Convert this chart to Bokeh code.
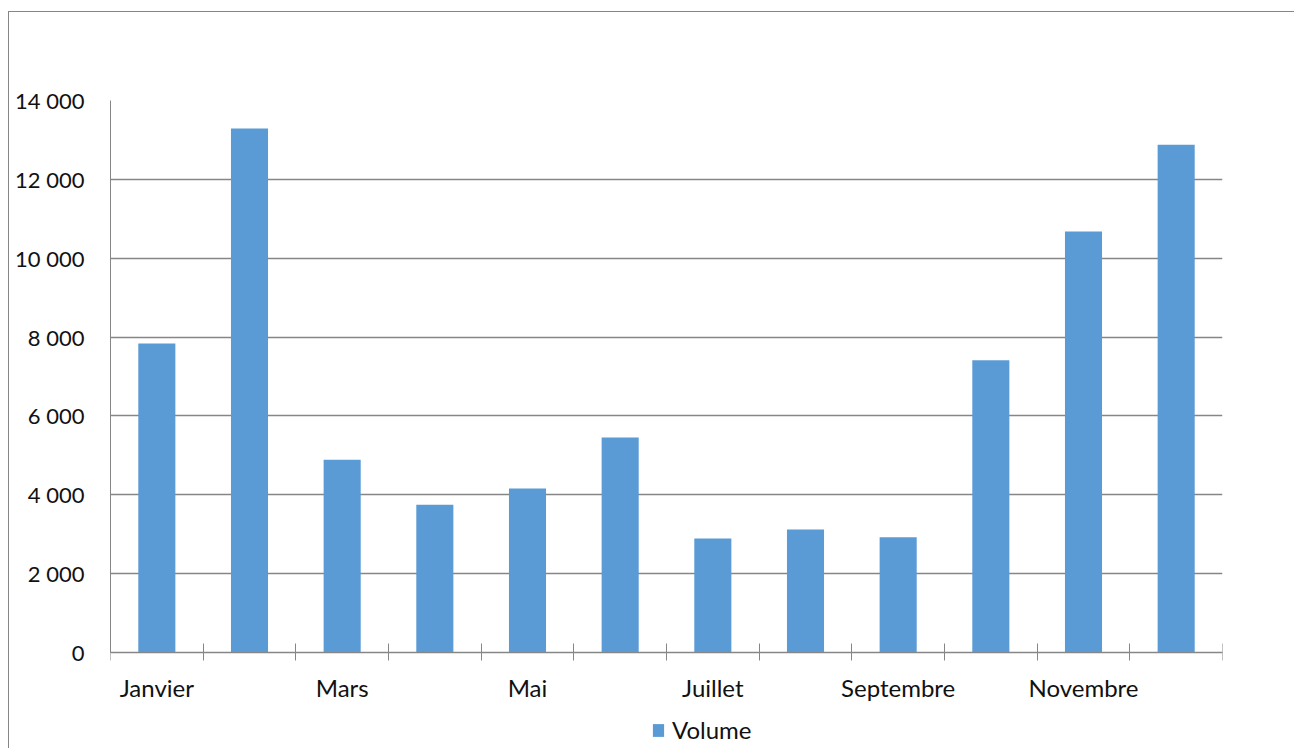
from bokeh.plotting import figure
from bokeh.models import Range1d, FixedTicker, Legend, LegendItem, LinearAxis
from bokeh.embed import file_html
from bokeh.resources import INLINE

months = ["Janvier", "Février", "Mars", "Avril", "Mai", "Juin",
          "Juillet", "Août", "Septembre", "Octobre", "Novembre", "Décembre"]
volume = [7840, 13290, 4890, 3750, 4160, 5450, 2890, 3120, 2920, 7410, 10680, 12880]
y_ticks = [0, 2000, 4000, 6000, 8000, 10000, 12000, 14000]
y_tick_labels = ["0", "2 000", "4 000", "6 000", "8 000", "10 000", "12 000", "14 000"]
series_name = "Volume"

FONT = "Lato"
GRAY = "#868686"
BLUE = "#5B9BD5"

Y_MAX = 14000
# frame extends below zero so that the category labels and legend sit inside it
Y_MIN = -Y_MAX * 96 / 552

p = figure(width=1286, height=737, output_backend="svg", toolbar_location=None,
           x_range=Range1d(0, len(months)), y_range=Range1d(Y_MIN, Y_MAX),
           x_axis_location=None,
           min_border_left=101, min_border_top=88, min_border_right=73, min_border_bottom=1,
           margin=(11, 0, 0, 8),
           styles={"border-top": f"1px solid {GRAY}", "border-left": f"1px solid {GRAY}"})
p.outline_line_color = None
p.background_fill_color = "white"
p.border_fill_color = "white"

xs = [i + 0.5 for i in range(len(months))]
r = p.vbar(x=xs, top=volume, width=0.4, bottom=0, fill_color=BLUE, line_color=None)

# x axis at value 0: labels on every other month, tick marks between categories
lab_pos = [xs[i] for i in range(0, len(months), 2)]
xaxis = LinearAxis(fixed_location=0)
xaxis.ticker = FixedTicker(ticks=lab_pos, minor_ticks=list(range(len(months) + 1)))
xaxis.major_label_overrides = {xs[i]: months[i] for i in range(0, len(months), 2)}
xaxis.major_tick_in = 0
xaxis.major_tick_out = 0
xaxis.minor_tick_in = 9
xaxis.minor_tick_out = 8
xaxis.minor_tick_line_color = GRAY
xaxis.axis_line_color = GRAY
xaxis.major_label_text_font = FONT
xaxis.major_label_text_font_size = "24px"
xaxis.major_label_text_color = "#111111"
xaxis.major_label_standoff = 12
p.add_layout(xaxis, "below")
p.xgrid.grid_line_color = None

# y axis
p.yaxis.ticker = FixedTicker(ticks=y_ticks)
p.yaxis.bounds = (0, Y_MAX)
p.yaxis.major_label_overrides = {t: l for t, l in zip(y_ticks, y_tick_labels)}
p.yaxis.major_tick_in = 0
p.yaxis.major_tick_out = 0
p.yaxis.minor_tick_line_color = None
p.yaxis.axis_line_color = GRAY
p.yaxis.major_label_text_font = FONT
p.yaxis.major_label_text_font_size = "22px"
p.yaxis.major_label_text_color = "#111111"
p.yaxis.major_label_standoff = 26
p.ygrid.grid_line_color = GRAY
p.ygrid.grid_line_width = 1.3

legend = Legend(items=[LegendItem(label=series_name, renderers=[r])],
                orientation="horizontal", location=(541, 4),
                label_text_font=FONT, label_text_font_size="24px",
                label_text_color="#111111", glyph_width=14, glyph_height=16,
                padding=0, margin=0, border_line_color=None,
                background_fill_alpha=0, label_standoff=7)
p.add_layout(legend, "center")

open("out.html", "w").write(file_html(p, INLINE))
